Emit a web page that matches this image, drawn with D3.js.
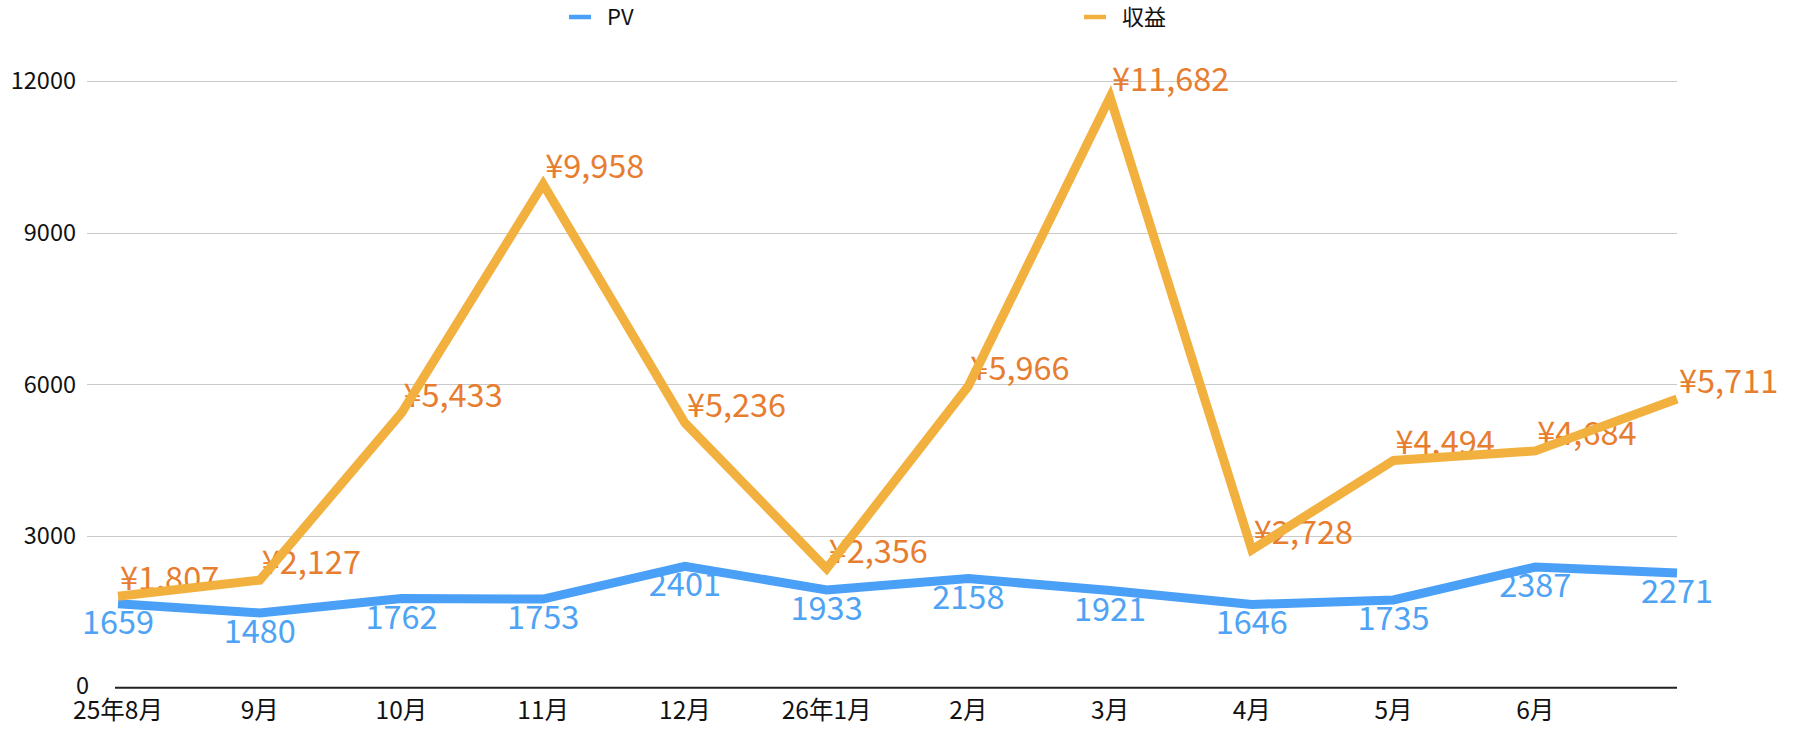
<!DOCTYPE html>
<html>
<head>
<meta charset="utf-8">
<script src="https://cdn.jsdelivr.net/npm/d3@7"></script>
<style>
  html, body { margin: 0; padding: 0; background: #fff; }
  svg text { font-family: "Noto Sans CJK JP", "Noto Sans", sans-serif; }
</style>
</head>
<body>
<div id="chart"></div>
<script>
// categories (last point has no label)
var months = ["25年8月", "9月", "10月", "11月", "12月", "26年1月", "2月", "3月", "4月", "5月", "6月", ""];
var pvValues = [1659, 1480, 1762, 1753, 2401, 1933, 2158, 1921, 1646, 1735, 2387, 2271];
var revenueValues = [1807, 2127, 5433, 9958, 5236, 2356, 5966, 11682, 2728, 4494, 4684, 5711];
var yTicks = [0, 3000, 6000, 9000, 12000];
var seriesNames = ["PV", "収益"];

// size of the picture
var width = 1800, height = 743;
var margin = {left: 118, right: 123, top: 81, bottom: 55};

var svg = d3.select("#chart").append("svg")
  .attr("width", width)
  .attr("height", height);

var x = d3.scalePoint()
  .domain(d3.range(months.length))
  .range([margin.left, width - margin.right]);

var y = d3.scaleLinear()
  .domain([0, 12000])
  .range([height - margin.bottom - 0.3, margin.top]);

// gridlines
svg.append("g")
  .selectAll("line")
  .data(yTicks.filter(function (d) { return d > 0; }))
  .enter().append("line")
  .attr("x1", 87)
  .attr("x2", width - margin.right)
  .attr("y1", function (d) { return Math.round(y(d)) + 0.5; })
  .attr("y2", function (d) { return Math.round(y(d)) + 0.5; })
  .attr("stroke", "#c9c9c9")
  .attr("stroke-width", 1.2);

// y tick labels
svg.append("g")
  .selectAll("text")
  .data(yTicks)
  .enter().append("text")
  .attr("x", function (d) { return d === 0 ? 89 : 76; })
  .attr("y", function (d) { return d === 0 ? y(d) - 2 : y(d); })
  .attr("dy", "0.36em")
  .attr("text-anchor", "end")
  .attr("font-size", 23.5)
  .attr("fill", "#111")
  .text(function (d) { return d; });

// x axis line
svg.append("line")
  .attr("x1", margin.left - 3)
  .attr("x2", width - margin.right)
  .attr("y1", y(0))
  .attr("y2", y(0))
  .attr("stroke", "#222")
  .attr("stroke-width", 2);

// x labels
svg.append("g")
  .selectAll("text")
  .data(months)
  .enter().append("text")
  .attr("x", function (d, i) { return x(i); })
  .attr("y", 719)
  .attr("text-anchor", "middle")
  .attr("font-size", 24.5)
  .attr("fill", "#111")
  .text(function (d) { return d; });

// data labels (drawn under the lines)
svg.append("g")
  .selectAll("text")
  .data(pvValues)
  .enter().append("text")
  .attr("x", function (d, i) { return x(i); })
  .attr("y", function (d) { return y(d) + 30; })
  .attr("text-anchor", "middle")
  .attr("font-size", 32.5)
  .attr("fill", "#4ea3f4")
  .text(function (d) { return d; });

svg.append("g")
  .selectAll("text")
  .data(revenueValues)
  .enter().append("text")
  .attr("x", function (d, i) { return x(i) + 2; })
  .attr("y", function (d) { return y(d) - 6; })
  .attr("text-anchor", "start")
  .attr("font-size", 32.5)
  .attr("fill", "#e77d2f")
  .text(function (d) { return "¥" + d3.format(",")(d); });

// lines
var line = d3.line()
  .x(function (d, i) { return x(i); })
  .y(function (d) { return y(d); });

svg.append("path")
  .datum(pvValues)
  .attr("d", line)
  .attr("fill", "none")
  .attr("stroke", "#4a9ff6")
  .attr("stroke-width", 9);

svg.append("path")
  .datum(revenueValues)
  .attr("d", line)
  .attr("fill", "none")
  .attr("stroke", "#f2b03e")
  .attr("stroke-width", 9);

// legend
var legendColors = ["#4a9ff6", "#f2b03e"];
var legendX = [569, 1084];
var legend = svg.append("g")
  .selectAll("g")
  .data(seriesNames)
  .enter().append("g")
  .attr("transform", function (d, i) { return "translate(" + legendX[i] + ",17)"; });

legend.append("line")
  .attr("x1", 0).attr("x2", 22)
  .attr("stroke", function (d, i) { return legendColors[i]; })
  .attr("stroke-width", 4.5);

legend.append("text")
  .attr("x", 38)
  .attr("dy", "0.36em")
  .attr("font-size", 22)
  .attr("fill", "#111")
  .text(function (d) { return d; });
</script>
</body>
</html>
